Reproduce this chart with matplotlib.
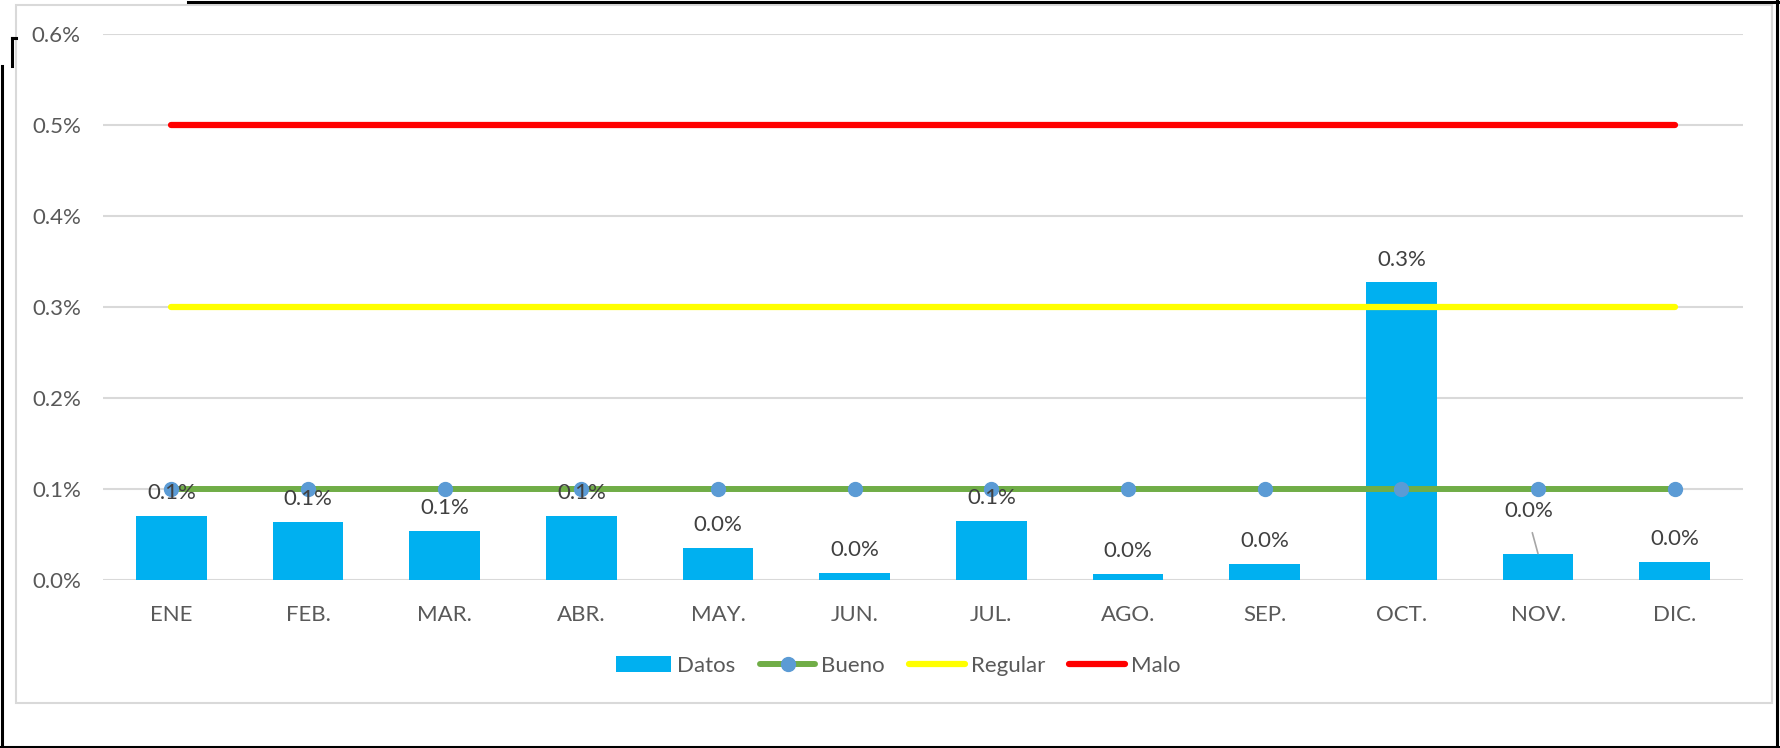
import matplotlib
matplotlib.use("Agg")
import matplotlib.pyplot as plt
from matplotlib.lines import Line2D
from matplotlib.patches import Rectangle
from matplotlib.ticker import FuncFormatter, MultipleLocator

plt.rcParams['font.family'] = ['Lato', 'DejaVu Sans']

# Monthly values (percent)
meses = ["ENE", "FEB.", "MAR.", "ABR.", "MAY.", "JUN.", "JUL.", "AGO.", "SEP.", "OCT.", "NOV.", "DIC."]
datos = [0.070, 0.064, 0.054, 0.070, 0.035, 0.008, 0.065, 0.007, 0.018, 0.327, 0.029, 0.020]
bueno = [0.1] * 12
regular = [0.3] * 12
malo = [0.5] * 12

FS = 16
W, H = 1780, 748
fig = plt.figure(figsize=(W / 100, H / 100), dpi=100)

# Chart area frame and sheet borders
fig.patches.append(Rectangle((16 / W, 1 - 703 / H), 1756 / W, 698 / H, transform=fig.transFigure,
                             fill=False, edgecolor="#D9D9D9", linewidth=1.5))
def fline(xs, ys, lw=2.2):
    fig.add_artist(Line2D([x / W for x in xs], [1 - y / H for y in ys], color="black",
                          linewidth=lw, transform=fig.transFigure))
fline([0, W], [746.5, 746.5])
fline([1777, 1777], [0, H])
fline([188, W], [1.5, 1.5])
fline([2, 2], [66, H])
fline([12, 12], [38, 66])
fline([12, 16], [38, 38])

ax = fig.add_axes([103 / W, 1 - 580 / H, 1640 / W, 546 / H])
x = list(range(len(meses)))

h_datos = ax.bar(x, datos, width=0.515, color="#00B0F0", zorder=2, label="Datos")
h_bueno, = ax.plot(x, bueno, color="#70AD47", linewidth=4.3, marker="o", markersize=10,
                   markerfacecolor="#5B9BD5", markeredgecolor="#5B9BD5", solid_capstyle="round",
                   zorder=3, label="Bueno")
h_regular, = ax.plot(x, regular, color="#FFFF00", linewidth=4.5, solid_capstyle="round",
                     zorder=3, label="Regular")
h_malo, = ax.plot(x, malo, color="#FF0000", linewidth=4.5, solid_capstyle="round",
                  zorder=3, label="Malo")

# Data labels above each bar
for i, v in enumerate(datos):
    txt = f"{v:.1f}%"
    if meses[i] == "NOV.":
        ax.annotate(txt, xy=(i, v), xytext=(-6.5, 31), textcoords="offset points",
                    ha="center", va="center", fontsize=FS, color="#404040", zorder=5,
                    arrowprops=dict(arrowstyle="-", color="#A6A6A6", linewidth=1.2,
                                    shrinkA=7, shrinkB=0, relpos=(0.5, 0.0)))
    else:
        ax.annotate(txt, xy=(i, v), xytext=(0, 16.5), textcoords="offset points",
                    ha="center", va="center", fontsize=FS, color="#404040", zorder=5)

ax.set_xlim(-0.5, len(meses) - 0.5)
ax.set_ylim(0, 0.6)
ax.yaxis.set_major_locator(MultipleLocator(0.1))
ax.yaxis.set_major_formatter(FuncFormatter(lambda v, p: f"{v:.1f}%"))
ax.set_xticks(x)
ax.set_xticklabels(meses)
ax.tick_params(axis="x", length=0, pad=18, labelsize=FS, labelcolor="#595959")
ax.tick_params(axis="y", length=0, pad=16, labelsize=FS, labelcolor="#595959")
ax.grid(axis="y", color="#D9D9D9", linewidth=1.5, zorder=0)
ax.set_axisbelow(True)
for s in ax.spines.values():
    s.set_visible(False)

fig.legend(handles=[h_datos, h_bueno, h_regular, h_malo],
           labels=["Datos", "Bueno", "Regular", "Malo"],
           loc="center", bbox_to_anchor=(898 / W, 1 - 666 / H), ncol=4, frameon=False,
           fontsize=FS, labelcolor="#595959", handlelength=2.5, handleheight=0.7,
           handletextpad=0.26, columnspacing=1.1)

fig.savefig("out.png", dpi=100, facecolor="white")
